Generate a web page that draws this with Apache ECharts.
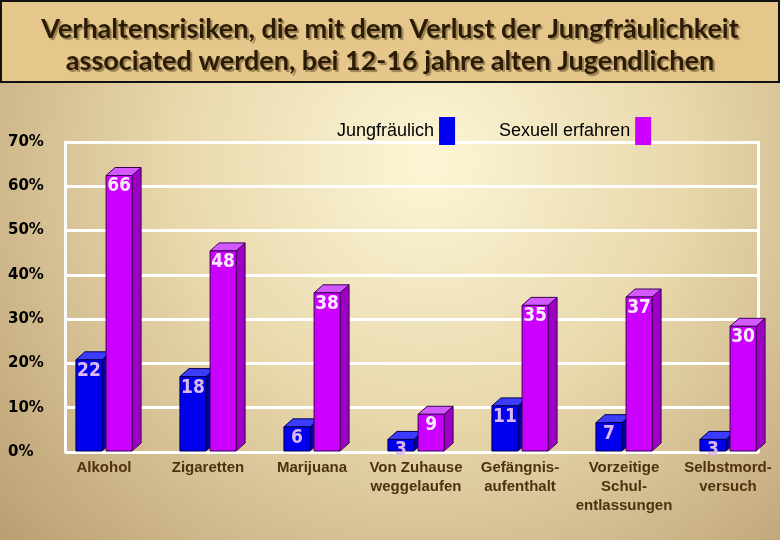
<!DOCTYPE html>
<html>
<head>
<meta charset="utf-8">
<script src="https://cdn.jsdelivr.net/npm/echarts@6/dist/echarts.min.js"></script>
<style>html,body{margin:0;padding:0;}#c{width:780px;height:540px;}</style>
</head>
<body>
<div id="c"></div>
<script>
const titleText = 'Verhaltensrisiken, die mit dem Verlust der Jungfräulichkeit\nassociated werden, bei 12-16 jahre alten Jugendlichen';
const categories = ['Alkohol', 'Zigaretten', 'Marijuana', 'Von Zuhause\nweggelaufen', 'Gefängnis-\naufenthalt', 'Vorzeitige\nSchul-\nentlassungen', 'Selbstmord-\nversuch'];
const seriesNames = ['Jungfräulich', 'Sexuell erfahren'];
const virginValues = [22, 18, 6, 3, 11, 7, 3];
const experiencedValues = [66, 48, 38, 9, 35, 37, 30];
const yTicks = [0, 10, 20, 30, 40, 50, 60, 70];

const palettes = [
  {front: '#0000ee', top: '#3c3cff', side: '#0000a6', stroke: '#000050', label: '#dcb8f0'},
  {front: '#cc00ff', top: '#d458ff', side: '#9d00c4', stroke: '#3a0050', label: '#fbeaff'}
];

function makeRender(sideIdx) {
  const pal = palettes[sideIdx];
  return function (params, api) {
    const idx = api.value(0), val = api.value(1);
    const b = api.coord([idx, 0]);
    const t = api.coord([idx, val]);
    const band = api.size([1, 0])[0];
    const w = band * 0.25, gap = band * 0.02;
    const c = b[0];
    const x0 = sideIdx === 0 ? c - gap - w : c + gap;
    const by = b[1] - 1, ty = t[1];
    const dx = 9, dy = 8;
    return {
      type: 'group',
      children: [
        {type: 'polygon', shape: {points: [[x0 + w, ty], [x0 + w + dx, ty - dy], [x0 + w + dx, by - dy], [x0 + w, by]]},
          style: {fill: pal.side, stroke: pal.stroke, lineWidth: 1}},
        {type: 'polygon', shape: {points: [[x0, ty], [x0 + dx, ty - dy], [x0 + w + dx, ty - dy], [x0 + w, ty]]},
          style: {fill: pal.top, stroke: pal.stroke, lineWidth: 1}},
        {type: 'rect', shape: {x: x0, y: ty, width: w, height: by - ty},
          style: {fill: pal.front, stroke: pal.stroke, lineWidth: 1}},
        {type: 'text', z2: 10, style: {text: String(val), x: x0 + w / 2, y: ty + 11, align: 'center', verticalAlign: 'middle',
          fill: pal.label, font: 'bold 19px "Liberation Sans Narrow", "DejaVu Sans Condensed", sans-serif'}}
      ]
    };
  };
}

const chart = echarts.init(document.getElementById('c'), null, {renderer: 'canvas'});
chart.setOption({
  animation: false,
  backgroundColor: {type: 'radial', x: 0.55, y: 0.3, r: 1.05, colorStops: [
    {offset: 0, color: '#fcf6d6'}, {offset: 0.45, color: '#e8d8ac'}, {offset: 1, color: '#bb9f72'}]},
  graphic: [
    {type: 'rect', left: 0, top: 0, z: 0, shape: {x: 1, y: 1, width: 778, height: 81},
      style: {fill: '#e6c78b', stroke: '#111', lineWidth: 2}}
  ],
  title: {
    text: titleText, left: 'center', top: 13, padding: 0,
    textStyle: {fontFamily: 'Lato', fontWeight: 'bold', fontSize: 27, lineHeight: 32, color: '#2b1c05',
      textShadowColor: 'rgba(60,40,10,0.45)', textShadowOffsetX: 2, textShadowOffsetY: 2, textShadowBlur: 1}
  },
  legend: {
    data: seriesNames, left: 332, top: 112, align: 'right', icon: 'rect', itemWidth: 16, itemHeight: 28, itemGap: 44,
    textStyle: {fontFamily: 'Liberation Sans', fontSize: 18, color: '#000'}
  },
  grid: [
    {left: 65, right: 22, top: 142, bottom: 88},
    {left: 52, right: 0, top: 142, bottom: 88}
  ],
  xAxis: [
    {type: 'category', gridIndex: 0, data: categories, show: false},
    {type: 'category', gridIndex: 1, data: categories, axisLine: {show: false}, axisTick: {show: false},
      axisLabel: {interval: 0, margin: 6, color: '#4d3210', fontFamily: 'Liberation Sans', fontWeight: 'bold', fontSize: 15, lineHeight: 19}}
  ],
  yAxis: [
    {type: 'value', gridIndex: 0, min: yTicks[0], max: yTicks[yTicks.length - 1], interval: 10,
      axisLine: {show: true, lineStyle: {color: '#fff', width: 3}}, axisTick: {show: false},
      splitLine: {lineStyle: {color: '#fff', width: 3}},
      axisLabel: {formatter: '{value}%', align: 'left', margin: 57, padding: [0, 0, 7, 0], color: '#000',
        fontFamily: 'DejaVu Sans', fontWeight: 'bold', fontSize: 15}},
    {type: 'value', gridIndex: 0, position: 'right', min: 0, max: 70, interval: 10,
      axisLine: {show: true, lineStyle: {color: '#fff', width: 3}}, axisTick: {show: false},
      splitLine: {show: false}, axisLabel: {show: false}},
    {type: 'value', gridIndex: 1, min: 0, max: 74, show: false, splitLine: {show: false}}
  ],
  series: [
    {name: seriesNames[0], type: 'custom', xAxisIndex: 1, yAxisIndex: 2, itemStyle: {color: '#0000ee'},
      renderItem: makeRender(0), encode: {x: 0, y: 1}, clip: false, z: 3,
      data: virginValues.map((v, i) => [i, v])},
    {name: seriesNames[1], type: 'custom', xAxisIndex: 1, yAxisIndex: 2, itemStyle: {color: '#cc00ff'},
      renderItem: makeRender(1), encode: {x: 0, y: 1}, clip: false, z: 4,
      data: experiencedValues.map((v, i) => [i, v])}
  ]
});
</script>
</body>
</html>
